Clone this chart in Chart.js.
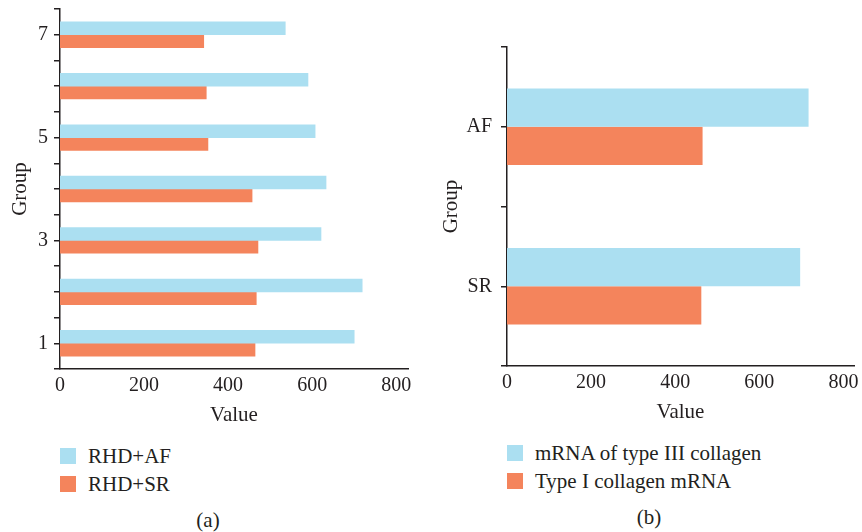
<!DOCTYPE html>
<html><head><meta charset="utf-8">
<script src="https://cdn.jsdelivr.net/npm/chart.js@4.4.0/dist/chart.umd.min.js"></script>
<style>
body{margin:0;width:862px;height:532px;background:#fff;position:relative;overflow:hidden;font-family:'Liberation Serif',serif;color:#231f20}
canvas{position:absolute;top:0}
#c1{left:0}
#c2{left:430px}
.leg{position:absolute;font-size:21px;line-height:28px}
.item{position:relative;height:28px;white-space:nowrap}
.sw{position:absolute;left:0;top:6px;width:16px;height:16px}
.lbl{position:absolute;left:28px;top:0}
.cap{position:absolute;font-size:21px;line-height:24px;transform:translateX(-50%)}
</style></head>
<body>
<canvas id="c1" width="430" height="430"></canvas>
<canvas id="c2" width="432" height="430"></canvas>
<div class="leg" id="leg1" style="left:60px;top:442px"></div>
<div class="leg" id="leg2" style="left:507px;top:439px"></div>
<div class="cap" style="left:208px;top:508px">(a)</div>
<div class="cap" style="left:649px;top:505px">(b)</div>
<script>
// ---- data ----
const groups = [1, 2, 3, 4, 5, 6, 7];
const groupTickLabels = [1, 3, 5, 7];
const rhdAF = [700, 719, 621, 633, 607, 590, 536];
const rhdSR = [464, 467, 471, 457, 352, 348, 342];
const seriesNamesA = ['RHD+AF', 'RHD+SR'];

const sites = ['SR', 'AF'];
const type3mRNA = [697, 717];
const type1mRNA = [462, 465];
const seriesNamesB = ['mRNA of type III collagen', 'Type I collagen mRNA'];

const valueTicks = [0, 200, 400, 600, 800];

// ---- style ----
const BLUE = '#ABDFF1', ORANGE = '#F4845C', INK = '#231F20';
const FONT = "'Liberation Serif', serif";
Chart.defaults.font.family = FONT;
Chart.defaults.font.size = 20;
Chart.defaults.color = INK;

function halfTicks(positions) {
  const t = [];
  positions.forEach(p => { t.push(p - 0.5); t.push(p); });
  t.push(positions[positions.length - 1] + 0.5);
  return t;
}

function build(canvasId, positions, labelFor, s1, s2, names, cfg) {
  const ticksY = halfTicks(positions);
  return new Chart(document.getElementById(canvasId), {
    type: 'bar',
    data: {
      datasets: [
        { label: names[0], data: positions.map((p, i) => ({ x: s1[i], y: p })), backgroundColor: BLUE },
        { label: names[1], data: positions.map((p, i) => ({ x: s2[i], y: p })), backgroundColor: ORANGE }
      ]
    },
    options: {
      indexAxis: 'y', responsive: false, animation: false,
      categoryPercentage: cfg.catPct, barPercentage: 1,
      layout: { padding: { top: cfg.padTop, right: cfg.padRight, left: 0, bottom: 0 } },
      plugins: { legend: { display: false }, tooltip: { enabled: false } },
      scales: {
        x: {
          type: 'linear', min: 0, max: cfg.xMax, position: 'bottom', offset: false,
          afterBuildTicks: s => { s.ticks = valueTicks.map(v => ({ value: v })); },
          afterFit: s => { s.height = cfg.xHeight; s.paddingLeft = 0; s.paddingRight = 0; },
          grid: { display: false, drawTicks: false, offset: false },
          border: { display: true, color: INK, width: 1.5 },
          ticks: { padding: 5, color: INK, font: { size: 20 }, autoSkip: false, maxRotation: 0 },
          title: { display: true, text: 'Value', color: INK, font: { size: 21 }, padding: { top: 0, bottom: cfg.xTitlePad } }
        },
        y: {
          type: 'linear', min: positions[0] - 0.5, max: positions[positions.length - 1] + 0.5,
          position: 'left', offset: false,
          afterBuildTicks: s => { s.ticks = ticksY.map(v => ({ value: v })); },
          afterFit: s => { s.width = cfg.yWidth; s.paddingTop = 0; s.paddingBottom = 0; },
          grid: { display: true, offset: false, drawOnChartArea: false, drawTicks: true, tickLength: 6, color: INK, lineWidth: 1.5 },
          border: { display: true, color: INK, width: 1.5 },
          ticks: { padding: cfg.yTickPad, color: INK, font: { size: 20 }, autoSkip: false, callback: v => labelFor(v) },
          title: { display: true, text: 'Group', color: INK, font: { size: 21 }, padding: { top: cfg.yTitlePad, bottom: 0 } }
        }
      }
    }
  });
}

build('c1', groups, v => groupTickLabels.includes(v) ? String(v) : '', rhdAF, rhdSR, seriesNamesA,
  { catPct: 1, padTop: 9, padRight: 22, xMax: 828, xHeight: 61, xTitlePad: 2, yWidth: 60, yTickPad: 6, yTitlePad: 8 });

const sitePos = sites.map((s, i) => i + 1);
build('c2', sitePos, v => { const i = sitePos.indexOf(v); return i >= 0 ? sites[i] : ''; }, type3mRNA, type1mRNA, seriesNamesB,
  { catPct: 0.96, padTop: 47, padRight: 8, xMax: 825, xHeight: 64, xTitlePad: 5, yWidth: 77, yTickPad: 9, yTitlePad: 9 });

function legend(id, names) {
  const el = document.getElementById(id);
  [BLUE, ORANGE].forEach((c, i) => {
    const it = document.createElement('div'); it.className = 'item';
    const sw = document.createElement('span'); sw.className = 'sw'; sw.style.background = c;
    const lb = document.createElement('span'); lb.className = 'lbl'; lb.textContent = names[i];
    it.appendChild(sw); it.appendChild(lb); el.appendChild(it);
  });
}
legend('leg1', seriesNamesA);
legend('leg2', seriesNamesB);
</script>
</body></html>
